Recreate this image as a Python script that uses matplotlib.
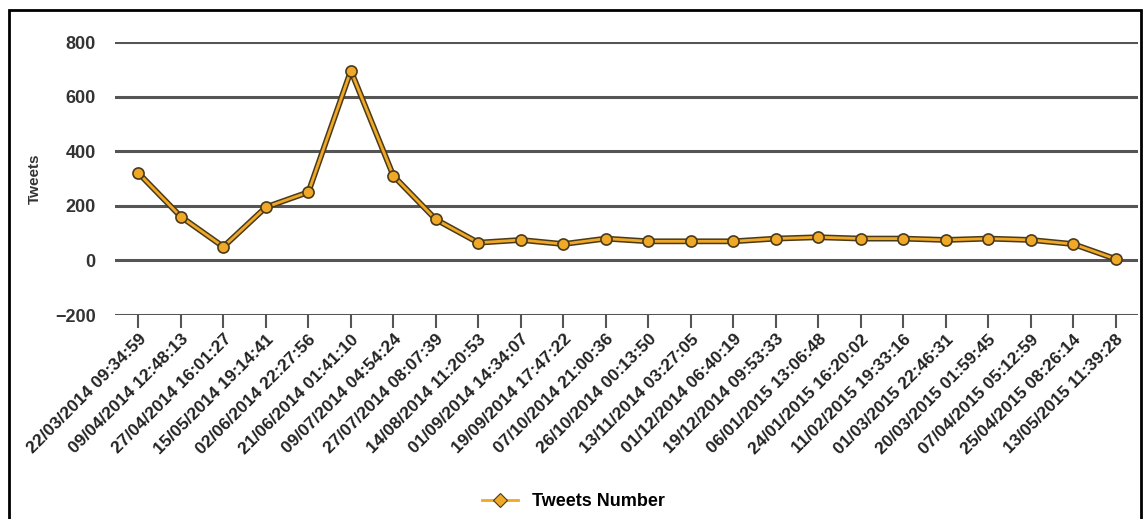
import numpy as np
import matplotlib
matplotlib.use("Agg")
import matplotlib.pyplot as plt
from matplotlib.patches import Rectangle

dates = ["22/03/2014 09:34:59", "09/04/2014 12:48:13", "27/04/2014 16:01:27",
         "15/05/2014 19:14:41", "02/06/2014 22:27:56", "21/06/2014 01:41:10",
         "09/07/2014 04:54:24", "27/07/2014 08:07:39", "14/08/2014 11:20:53",
         "01/09/2014 14:34:07", "19/09/2014 17:47:22", "07/10/2014 21:00:36",
         "26/10/2014 00:13:50", "13/11/2014 03:27:05", "01/12/2014 06:40:19",
         "19/12/2014 09:53:33", "06/01/2015 13:06:48", "24/01/2015 16:20:02",
         "11/02/2015 19:33:16", "01/03/2015 22:46:31", "20/03/2015 01:59:45",
         "07/04/2015 05:12:59", "25/04/2015 08:26:14", "13/05/2015 11:39:28"]
tweets = [320, 160, 50, 195, 250, 695, 310, 150, 65, 75, 60, 80,
          70, 70, 70, 80, 85, 80, 80, 75, 80, 75, 60, 5]

plt.rcParams['font.family'] = ['Liberation Sans', 'DejaVu Sans']

fig = plt.figure(figsize=(11.47, 5.19), dpi=100)
ax = fig.add_axes([0.1003, 0.393, 0.8917, 0.526])

x = np.arange(len(tweets))
gold = '#F0A828'
edge = '#4a3a18'

for yv in range(-200, 801, 200):
    ax.axhline(yv, color='#555555', lw=2.2, zorder=1)

# dark under-stroke gives the outlined look of the series
ax.plot(x, tweets, color=edge, lw=4.2, zorder=2, solid_capstyle='round')
ax.plot(x, tweets, color=gold, lw=2.0, zorder=3)
ax.plot(x, tweets, linestyle='none', marker='o', ms=8, mfc=gold, mec=edge,
        mew=1.2, zorder=4)

ax.set_xlim(-0.55, 23.52)
ax.set_ylim(-200, 800)
ax.set_yticks(range(-200, 801, 200))
ax.set_yticklabels([str(v).replace('-', '\u2212') for v in range(-200, 801, 200)],
                   fontsize=13, fontweight='bold', color='#333333')
ax.tick_params(axis='y', length=0, pad=14)

ax.set_xticks(x)
ax.set_xticklabels(dates, rotation=45, ha='right', rotation_mode='anchor',
                   fontsize=12.5, fontweight='bold', color='#222222')
ax.tick_params(axis='x', length=9, width=1.5, color='#555555', pad=3)

for s in ax.spines.values():
    s.set_visible(False)

ax.set_ylabel('Tweets', fontsize=11, fontweight='bold', color='#333333', labelpad=9)

leg_handle, = ax.plot([], [], color=gold, lw=2, marker='D', ms=7, mfc=gold,
                      mec=edge, mew=0.8)
fig.legend([leg_handle], ['Tweets Number'], loc='center', bbox_to_anchor=(0.5, 0.033),
           frameon=False, prop={'weight': 'bold', 'size': 13}, handlelength=2.0)

fig.patches.append(Rectangle((0.008, -0.02), 0.987, 1.0, transform=fig.transFigure,
                             fill=False, edgecolor='black', lw=2))

fig.savefig('out.png', dpi=100)
